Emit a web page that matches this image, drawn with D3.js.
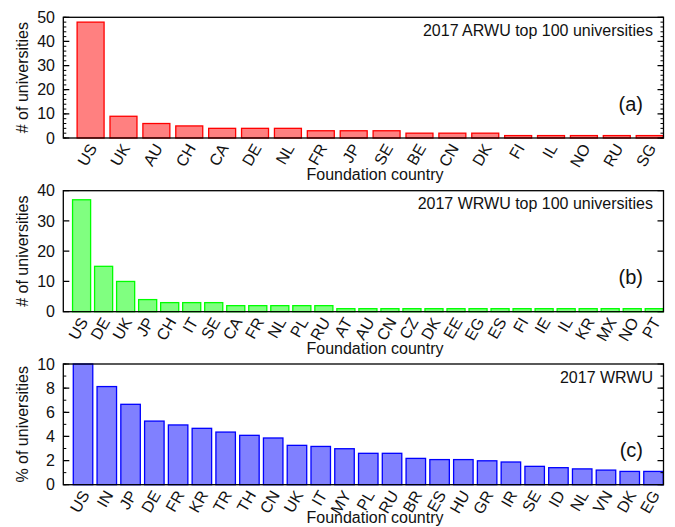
<!DOCTYPE html>
<html>
<head>
<meta charset="utf-8">
<script src="https://cdn.jsdelivr.net/npm/d3@7"></script>
<style>
  body { margin: 0; background: #fff; }
  svg text { font-family: "Liberation Sans", Arial, Helvetica, sans-serif; fill: #111; }
</style>
</head>
<body>
<svg id="chart" width="675" height="527"></svg>
<script>
// Panel (a): 2017 ARWU top 100
var arwuCountries = ["US","UK","AU","CH","CA","DE","NL","FR","JP","SE","BE","CN","DK","FI","IL","NO","RU","SG"];
var arwuCounts = [48, 9, 6, 5, 4, 4, 4, 3, 3, 3, 2, 2, 2, 1, 1, 1, 1, 1];

// Panel (b): 2017 WRWU top 100
var wrwuTopCountries = ["US","DE","UK","JP","CH","IT","SE","CA","FR","NL","PL","RU","AT","AU","CN","CZ","DK","EE","EG","ES","FI","IE","IL","KR","MX","NO","PT"];
var wrwuTopCounts = [37, 15, 10, 4, 3, 3, 3, 2, 2, 2, 2, 2, 1, 1, 1, 1, 1, 1, 1, 1, 1, 1, 1, 1, 1, 1, 1];

// Panel (c): 2017 WRWU, share of all universities (%)
var wrwuCountries = ["US","IN","JP","DE","FR","KR","TR","TH","CN","UK","IT","MY","PL","RU","BR","ES","HU","GR","IR","SE","ID","NL","VN","DK","EG"];
var wrwuPercent = [10, 8.13, 6.66, 5.27, 4.95, 4.67, 4.36, 4.09, 3.87, 3.26, 3.17, 2.98, 2.6, 2.6, 2.18, 2.08, 2.08, 1.98, 1.88, 1.52, 1.41, 1.31, 1.21, 1.1, 1.1];

var svg = d3.select("#chart");
var left = 63.3, right = 663.5;

function drawPanel(p) {
  var n = p.cats.length;
  var x = d3.scaleLinear().domain([-0.83, n - 1 + 0.42]).range([left, right]);
  var y = d3.scaleLinear().domain([0, p.yMax]).range([p.bottom, p.top]);
  var g = svg.append("g");
  var bw = 0.82;

  g.append("clipPath").attr("id", "clip" + p.tag)
    .append("rect").attr("x", left).attr("y", p.top)
    .attr("width", right - left).attr("height", p.bottom - p.top);

  g.append("g").attr("clip-path", "url(#clip" + p.tag + ")")
    .selectAll("rect").data(p.vals).enter().append("rect")
    .attr("x", (d, i) => x(i - bw / 2))
    .attr("width", x(bw) - x(0))
    .attr("y", d => y(d))
    .attr("height", d => p.bottom - y(d))
    .attr("fill", p.fill)
    .attr("stroke", p.stroke)
    .attr("stroke-width", 1.3);

  // minor ticks, both sides
  if (p.minor) {
    var minors = d3.range(0, p.yMax + 1e-9, p.minor);
    g.selectAll(".mn").data(minors).enter().append("path")
      .attr("d", d => "M" + left + "," + y(d) + "h3M" + right + "," + y(d) + "h-3")
      .attr("stroke", "#000").attr("stroke-width", 1);
  }
  var majors = d3.range(0, p.yMax + 1e-9, p.step);
  g.selectAll(".mj").data(majors).enter().append("path")
    .attr("d", d => "M" + left + "," + y(d) + "h6M" + right + "," + y(d) + "h-6")
    .attr("stroke", "#000").attr("stroke-width", 1.2);
  g.selectAll(".yl").data(majors).enter().append("text")
    .attr("x", 55).attr("y", d => y(d)).attr("dy", "0.35em")
    .attr("text-anchor", "end").attr("font-size", 16)
    .text(d => d);

  g.append("rect").attr("x", left).attr("y", p.top)
    .attr("width", right - left).attr("height", p.bottom - p.top)
    .attr("fill", "none").attr("stroke", "#000").attr("stroke-width", 1.3);

  g.selectAll(".xl").data(p.cats).enter().append("text")
    .attr("text-anchor", "end").attr("font-size", 16)
    .attr("transform", (d, i) => "translate(" + (x(i) + 7) + "," + (p.bottom + 10) + ") rotate(-60)")
    .text(d => d);

  g.append("text").attr("x", 375).attr("y", Math.min(p.bottom + 42, 523))
    .attr("text-anchor", "middle").attr("font-size", 16)
    .text("Foundation country");

  g.append("text")
    .attr("transform", "translate(28," + ((p.top + p.bottom) / 2) + ") rotate(-90)")
    .attr("text-anchor", "middle").attr("font-size", 16)
    .text(p.ylabel);

  g.append("text").attr("x", 653).attr("y", p.top + 18.5)
    .attr("text-anchor", "end").attr("font-size", 16)
    .text(p.title);

  g.append("text").attr("x", 643).attr("y", p.bottom - 27.5)
    .attr("text-anchor", "end").attr("font-size", 20)
    .text(p.tag);
}

drawPanel({cats: arwuCountries, vals: arwuCounts, top: 17.3, bottom: 138, yMax: 50, step: 10, minor: 2,
  fill: "#ff8080", stroke: "#ff0000", title: "2017 ARWU top 100 universities", tag: "(a)", ylabel: "# of universities"});
drawPanel({cats: wrwuTopCountries, vals: wrwuTopCounts, top: 190.7, bottom: 311.7, yMax: 40, step: 10, minor: 0,
  fill: "#80ff80", stroke: "#00ff00", title: "2017 WRWU top 100 universities", tag: "(b)", ylabel: "# of universities"});
drawPanel({cats: wrwuCountries, vals: wrwuPercent, top: 364, bottom: 484.7, yMax: 10, step: 2, minor: 1,
  fill: "#8080ff", stroke: "#0000ff", title: "2017 WRWU", tag: "(c)", ylabel: "% of universities"});
</script>
</body>
</html>
